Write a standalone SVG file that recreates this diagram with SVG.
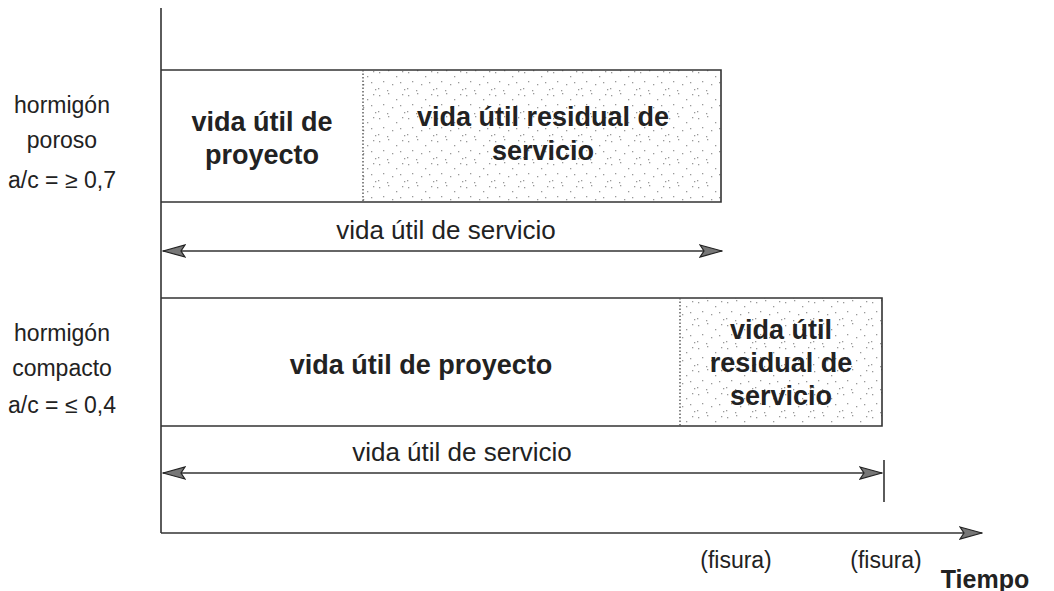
<svg xmlns="http://www.w3.org/2000/svg" width="1054" height="591" viewBox="0 0 1054 591">
<style>
.ln{stroke:#333;stroke-width:1.6;fill:none}
.dv{stroke:#555;stroke-width:1.4;stroke-dasharray:1.5 2;fill:none}
.b{font-family:"Liberation Sans",Arial,sans-serif;font-weight:bold;font-size:27px;fill:#222;text-anchor:middle}
.r{font-family:"Liberation Sans",Arial,sans-serif;font-size:23px;fill:#222;text-anchor:middle}
.s{font-size:26px}
</style>
<defs>
<pattern id="stip" width="29" height="23" patternUnits="userSpaceOnUse">
<g fill="#999">
<rect x="2" y="3" width="1.3" height="1.3"/><rect x="11" y="1" width="1.3" height="1.3"/>
<rect x="19" y="7" width="1.3" height="1.3"/><rect x="25" y="2" width="1.3" height="1.3"/>
<rect x="6" y="12" width="1.3" height="1.3"/><rect x="15" y="15" width="1.3" height="1.3"/>
<rect x="23" y="13" width="1.3" height="1.3"/><rect x="1" y="19" width="1.3" height="1.3"/>
<rect x="10" y="21" width="1.3" height="1.3"/><rect x="27" y="20" width="1.3" height="1.3"/>
</g>
</pattern>
<marker id="ah" viewBox="0 0 24 14" refX="23" refY="7" markerWidth="24" markerHeight="14" markerUnits="userSpaceOnUse" orient="auto-start-reverse">
<path d="M1,1 L23,7 L1,13 L5,7 Z" fill="#777" stroke="#222" stroke-width="1.2"/>
</marker>
</defs>
<g id="axes">
<line class="ln" x1="161" y1="8" x2="161" y2="533"/>
<line class="ln" x1="161" y1="533" x2="982" y2="533" marker-end="url(#ah)"/>
</g>
<g id="box-poroso">
<rect x="363" y="70" width="358" height="132" fill="url(#stip)"/>
<path class="ln" d="M161,70 H721 V202 H161"/>
<line class="dv" x1="363" y1="70" x2="363" y2="202"/>
<text class="b" x="262" y="131">vida útil de</text>
<text class="b" x="262" y="164">proyecto</text>
<text class="b" x="543" y="126">vida útil residual de</text>
<text class="b" x="543" y="160">servicio</text>
</g>
<g id="box-compacto">
<rect x="680" y="298" width="202" height="128" fill="url(#stip)"/>
<path class="ln" d="M161,298 H882 V426 H161"/>
<line class="dv" x1="680" y1="298" x2="680" y2="426"/>
<text class="b" x="421" y="374">vida útil de proyecto</text>
<text class="b" x="781" y="339">vida útil</text>
<text class="b" x="781" y="372">residual de</text>
<text class="b" x="781" y="405">servicio</text>
</g>
<g id="labels">
<text class="r" x="62" y="113">hormigón</text>
<text class="r" x="62" y="148">poroso</text>
<text class="r" x="62" y="188">a/c = ≥ 0,7</text>
<text class="r" x="62" y="341">hormigón</text>
<text class="r" x="62" y="376">compacto</text>
<text class="r" x="62" y="413">a/c = ≤ 0,4</text>
<text class="r s" x="446" y="239">vida útil de servicio</text>
<text class="r s" x="462" y="461">vida útil de servicio</text>
<text class="r" x="736" y="568">(fisura)</text>
<text class="r" x="886" y="568">(fisura)</text>
<text class="b" x="985" y="588" style="font-size:25px">Tiempo</text>
</g>
<g id="connectors">
<line class="ln" x1="163" y1="251" x2="722" y2="251" marker-start="url(#ah)" marker-end="url(#ah)"/>
<line class="ln" x1="163" y1="473" x2="882" y2="473" marker-start="url(#ah)" marker-end="url(#ah)"/>
<line class="ln" x1="884" y1="460" x2="884" y2="502"/>
</g>
</svg>
